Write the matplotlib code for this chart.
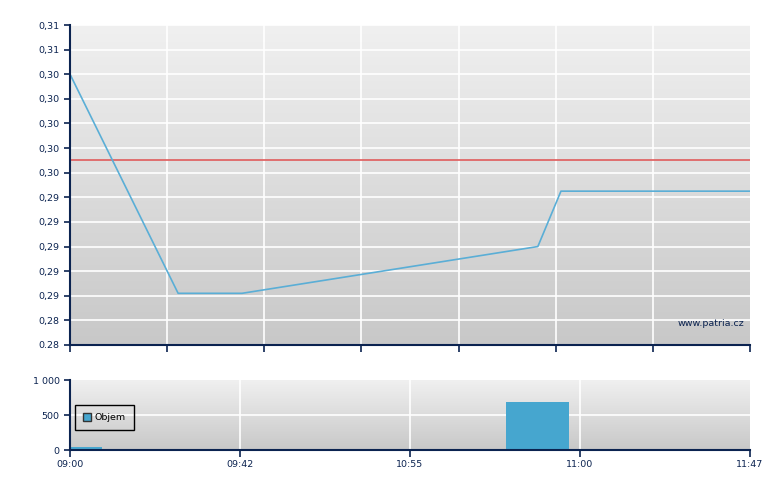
import numpy as np
import matplotlib
matplotlib.use("Agg")
import matplotlib.pyplot as plt
from matplotlib.patches import Patch

plt.rcParams["font.family"] = ["DejaVu Sans"]

# ---- data ----
price_x = [0, 15.9, 25.3, 68.8, 72.2, 100]
price = [0.3040, 0.2862, 0.2862, 0.2900, 0.2945, 0.2945]
ref_price = 0.297
vol_x = [0, 68.8]
volume = [43, 690]
price_ticks = [0.282, 0.284, 0.286, 0.288, 0.290, 0.292, 0.294, 0.296,
               0.298, 0.300, 0.302, 0.304, 0.306, 0.308]
price_tick_labels = ["0.28", "0,28", "0,29", "0,29", "0,29", "0,29", "0,29",
                     "0,30", "0,30", "0,30", "0,30", "0,30", "0,31", "0,31"]
vol_ticks = [0, 500, 1000]
vol_tick_labels = ["0", "500", "1 000"]
time_ticks = [0, 25, 50, 75, 100]
time_labels = ["09:00", "09:42", "10:55", "11:00", "11:47"]

NAVY = "#0b2350"
LINE = "#5aaed6"
RED = "#e06666"
BAR = "#46a6cf"
FS = 6.8

W, H = 780, 490
fig = plt.figure(figsize=(W / 100, H / 100), dpi=100)
fig.patch.set_facecolor("white")

def axes_px(l, t, r, b):
    return fig.add_axes([l / W, 1 - b / H, (r - l) / W, (b - t) / H])

def gradient(ax):
    g = np.linspace(240, 200, 256)[:, None] / 255.0
    img = np.dstack([g, g, g])
    ax.imshow(img, extent=(0, 1, 0, 1), transform=ax.transAxes,
              aspect="auto", zorder=0, interpolation="bilinear")

def style(ax):
    for s in ["top", "right"]:
        ax.spines[s].set_visible(False)
    for s in ["left", "bottom"]:
        ax.spines[s].set_color(NAVY)
        ax.spines[s].set_linewidth(1.5)
        ax.spines[s].set_zorder(5)
    ax.tick_params(colors=NAVY, labelcolor=NAVY, labelsize=FS, length=4,
                   width=1.2, direction="out")

# ---- top panel ----
ax1 = axes_px(70, 25, 750, 345)
gradient(ax1)
style(ax1)
vgrid = np.linspace(0, 100, 8)
for v in vgrid[1:-1]:
    ax1.axvline(v, color="white", lw=1.2, zorder=1)
for t in price_ticks[1:]:
    ax1.axhline(t, color="white", lw=1.2, zorder=1)
ax1.axhline(ref_price, color=RED, lw=1.3, zorder=3)
ax1.plot(price_x, price, color=LINE, lw=1.2, zorder=4)
ax1.set_xlim(0, 100)
ax1.set_ylim(price_ticks[0], price_ticks[-1])
ax1.set_yticks(price_ticks)
ax1.set_yticklabels(price_tick_labels)
ax1.set_xticks(vgrid)
ax1.set_xticklabels([])
ax1.tick_params(axis="x", length=5)
ax1.text(0.9915, 0.068, "www.patria.cz", transform=ax1.transAxes,
         ha="right", va="center", color=NAVY, fontsize=FS, zorder=6)

# ---- bottom panel ----
ax2 = axes_px(70, 380, 750, 450)
gradient(ax2)
style(ax2)
for v in time_ticks[1:-1]:
    ax2.axvline(v, color="white", lw=1.2, zorder=1)
for t in vol_ticks[1:-1]:
    ax2.axhline(t, color="white", lw=1.2, zorder=1)
ax2.bar(vol_x, volume, width=9.3, color=BAR, zorder=3)
ax2.set_xlim(0, 100)
ax2.set_ylim(0, 1000)
ax2.set_yticks(vol_ticks)
ax2.set_yticklabels(vol_tick_labels)
ax2.set_xticks(time_ticks)
ax2.set_xticklabels(time_labels)
ax2.tick_params(axis="x", length=5, pad=2.5)
leg = ax2.legend(handles=[Patch(facecolor=BAR, edgecolor="#333333", label="Objem")],
                 loc="upper left", bbox_to_anchor=(0.0075, 0.64),
                 fancybox=False, facecolor="none", edgecolor="black",
                 framealpha=1, fontsize=FS, handlelength=0.8, handleheight=0.8,
                 handletextpad=0.4, borderpad=0.85, borderaxespad=0)
leg.get_frame().set_linewidth(1.0)
leg.set_zorder(6)
for txt in leg.get_texts():
    txt.set_color("black")

fig.savefig("out.png", dpi=100)
